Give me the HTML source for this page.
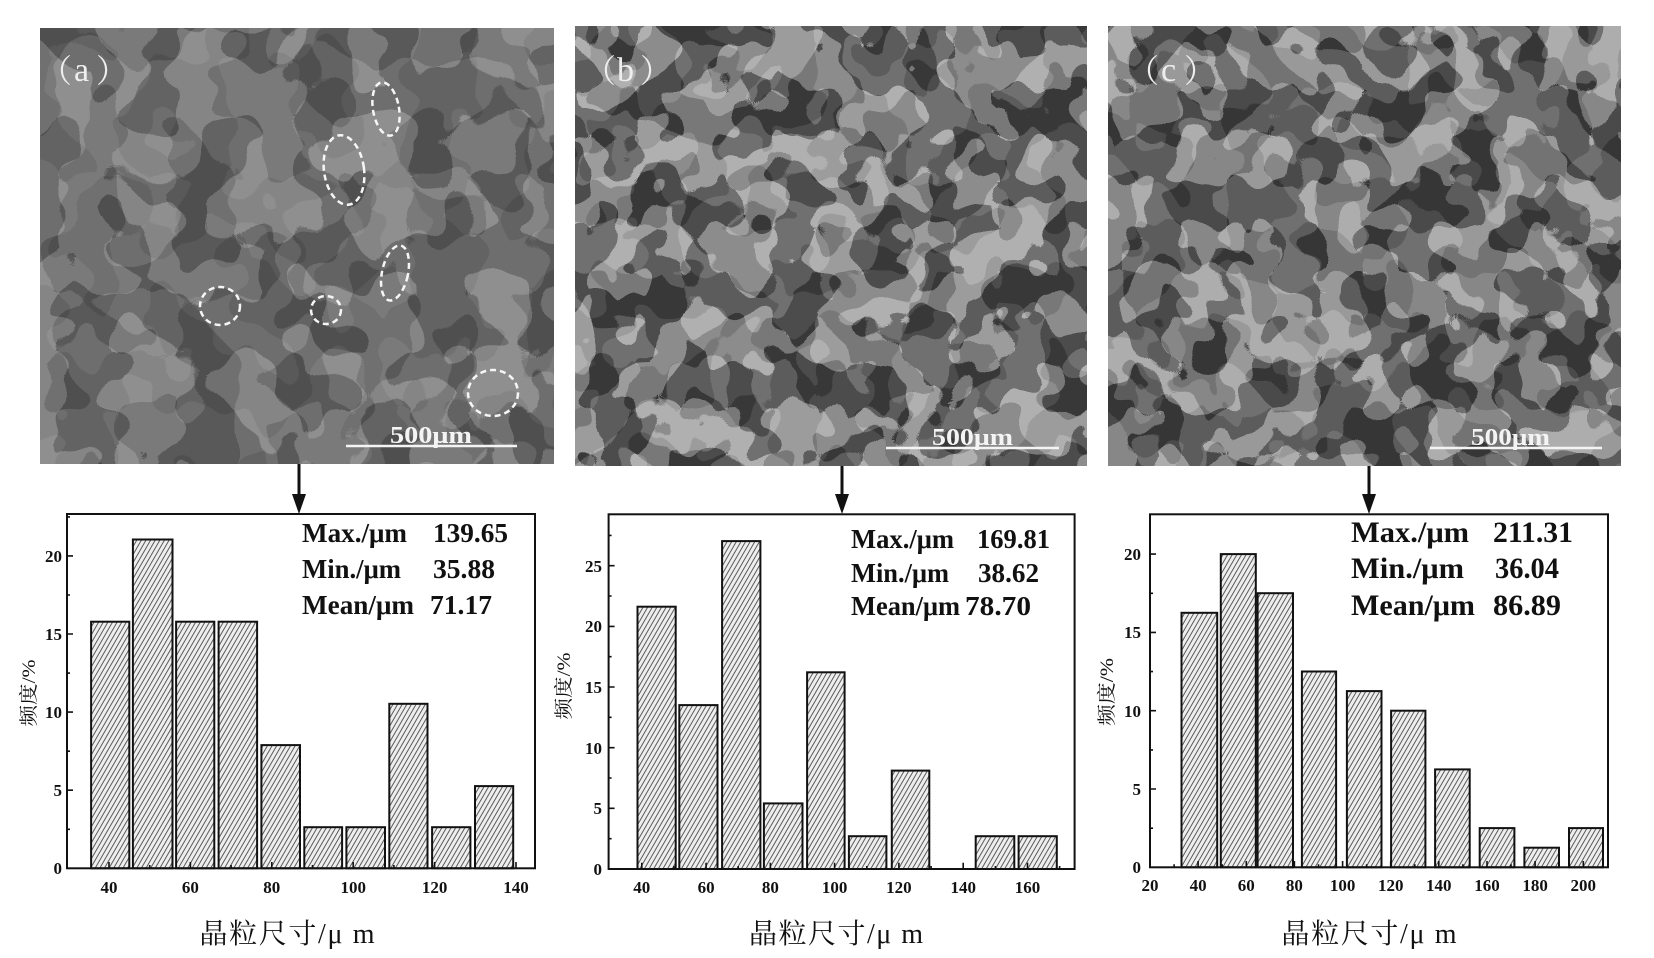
<!DOCTYPE html>
<html>
<head>
<meta charset="utf-8">
<style>
  html,body{margin:0;padding:0;background:#fff;}
  svg{display:block;}
  .tk{font-family:"Liberation Serif","Noto Serif CJK SC",serif;font-weight:bold;font-size:17px;fill:#111;}
  .st{font-family:"Liberation Serif","Noto Serif CJK SC",serif;font-weight:bold;fill:#111;}
  .yl{font-family:"Liberation Serif","Noto Serif CJK SC",serif;font-size:19px;fill:#111;}
  .xl{font-family:"Liberation Serif","Noto Serif CJK SC",serif;font-size:28px;fill:#111;}
  .sb{font-family:"Liberation Serif",serif;font-weight:bold;font-size:24px;fill:#f4f4f4;}
  .lb{font-family:"Liberation Serif","Noto Serif CJK SC",serif;fill:#eeeeee;}
</style>
</head>
<body>
<svg width="1654" height="958" viewBox="0 0 1654 958" xmlns="http://www.w3.org/2000/svg">
<defs>
  <pattern id="hat" width="4" height="8" patternUnits="userSpaceOnUse" patternTransform="rotate(30)">
    <rect width="4" height="8" fill="#eeeeee"/>
    <rect x="0" y="0" width="1" height="8" fill="#5a5a5a"/>
  </pattern>
  <filter id="fa" filterUnits="userSpaceOnUse" x="40" y="28" width="514" height="436" color-interpolation-filters="sRGB">
    <feTurbulence type="fractalNoise" baseFrequency="0.017" numOctaves="2" seed="3"/>
    <feComponentTransfer>
      <feFuncR type="discrete" tableValues="0 1"/>
      <feFuncG type="discrete" tableValues="0 1"/>
      <feFuncB type="discrete" tableValues="0 1"/>
      <feFuncA type="discrete" tableValues="1 1"/>
    </feComponentTransfer>
    <feColorMatrix type="matrix" values="0.13 0.08 0.04 0 0.31  0.13 0.08 0.04 0 0.31  0.13 0.08 0.04 0 0.31  0 0 0 0 1"/>
  </filter>
  <filter id="fb" filterUnits="userSpaceOnUse" x="575" y="26" width="512" height="440" color-interpolation-filters="sRGB">
    <feTurbulence type="fractalNoise" baseFrequency="0.022" numOctaves="2" seed="11"/>
    <feComponentTransfer>
      <feFuncR type="discrete" tableValues="0 1"/>
      <feFuncG type="discrete" tableValues="0 1"/>
      <feFuncB type="discrete" tableValues="0 1"/>
      <feFuncA type="discrete" tableValues="1 1"/>
    </feComponentTransfer>
    <feColorMatrix type="matrix" values="0.25 0.14 0.08 0 0.22  0.25 0.14 0.08 0 0.22  0.25 0.14 0.08 0 0.22  0 0 0 0 1"/>
  </filter>
  <filter id="fc" filterUnits="userSpaceOnUse" x="1108" y="26" width="513" height="440" color-interpolation-filters="sRGB">
    <feTurbulence type="fractalNoise" baseFrequency="0.022" numOctaves="2" seed="27"/>
    <feComponentTransfer>
      <feFuncR type="discrete" tableValues="0 1"/>
      <feFuncG type="discrete" tableValues="0 1"/>
      <feFuncB type="discrete" tableValues="0 1"/>
      <feFuncA type="discrete" tableValues="1 1"/>
    </feComponentTransfer>
    <feColorMatrix type="matrix" values="0.24 0.15 0.08 0 0.21  0.24 0.15 0.08 0 0.21  0.24 0.15 0.08 0 0.21  0 0 0 0 1"/>
  </filter>
</defs>

<rect width="1654" height="958" fill="#fff"/>

<!-- ================= Micrographs ================= -->
<rect x="40" y="28" width="514" height="436" fill="#707070"/>
<rect x="40" y="28" width="514" height="436" fill="#707070" filter="url(#fa)"/>
<rect x="575" y="26" width="512" height="440" fill="#767676"/>
<rect x="575" y="26" width="512" height="440" fill="#767676" filter="url(#fb)"/>
<rect x="1108" y="26" width="513" height="440" fill="#737373"/>
<rect x="1108" y="26" width="513" height="440" fill="#737373" filter="url(#fc)"/>

<!-- panel labels -->
<text class="lb" x="40" y="82" font-size="32">（</text>
<text class="lb" x="74" y="81" font-size="34">a</text>
<text class="lb" x="96" y="82" font-size="32">）</text>

<text class="lb" x="584" y="82" font-size="32">（</text>
<text class="lb" x="617" y="81" font-size="34">b</text>
<text class="lb" x="640" y="82" font-size="32">）</text>

<text class="lb" x="1127" y="82" font-size="32">（</text>
<text class="lb" x="1161" y="81" font-size="34">c</text>
<text class="lb" x="1184" y="82" font-size="32">）</text>

<!-- dashed ellipses in (a) -->
<g fill="none" stroke="#f6f6f6" stroke-width="2.5" stroke-dasharray="6 4">
  <ellipse cx="386" cy="109" rx="13" ry="27" transform="rotate(-10 386 109)"/>
  <ellipse cx="344" cy="170" rx="20" ry="35" transform="rotate(-8 344 170)"/>
  <ellipse cx="395" cy="273" rx="13" ry="28" transform="rotate(12 395 273)"/>
  <ellipse cx="220" cy="306" rx="20" ry="19"/>
  <ellipse cx="326" cy="310" rx="15" ry="14"/>
  <ellipse cx="493" cy="393" rx="25" ry="23"/>
</g>

<!-- scale bars -->
<text class="sb" x="390" y="443" textLength="82" lengthAdjust="spacingAndGlyphs">500μm</text>
<line x1="346" y1="446" x2="517" y2="446" stroke="#f4f4f4" stroke-width="2.5"/>
<text class="sb" x="932" y="445" textLength="81" lengthAdjust="spacingAndGlyphs">500μm</text>
<line x1="886" y1="448" x2="1059" y2="448" stroke="#f4f4f4" stroke-width="2.5"/>
<text class="sb" x="1471" y="445" textLength="79" lengthAdjust="spacingAndGlyphs">500μm</text>
<line x1="1430" y1="448" x2="1602" y2="448" stroke="#f4f4f4" stroke-width="2.5"/>

<!-- arrows -->
<g stroke="#111" stroke-width="3">
  <line x1="299" y1="464" x2="299" y2="500"/>
  <line x1="842" y1="466" x2="842" y2="500"/>
  <line x1="1369" y1="466" x2="1369" y2="500"/>
</g>
<g fill="#111">
  <polygon points="292,494 306,494 299,514"/>
  <polygon points="835,494 849,494 842,514"/>
  <polygon points="1362,494 1376,494 1369,514"/>
</g>

<!-- ================= Plot (a) ================= -->
<g stroke="#111" stroke-width="2" fill="url(#hat)">
  <rect x="91.1" y="621.7" width="38.2" height="246.6"/>
  <rect x="132.9" y="539.5" width="39.6" height="328.8"/>
  <rect x="176.1" y="621.7" width="38.2" height="246.6"/>
  <rect x="218.6" y="621.7" width="38.5" height="246.6"/>
  <rect x="261.4" y="745.1" width="38.6" height="123.2"/>
  <rect x="304.3" y="827.2" width="37.8" height="41.1"/>
  <rect x="346.4" y="827.2" width="38.6" height="41.1"/>
  <rect x="389.3" y="703.8" width="38.2" height="164.5"/>
  <rect x="432.1" y="827.2" width="38.3" height="41.1"/>
  <rect x="475" y="786.1" width="38.2" height="82.2"/>
</g>
<rect x="67" y="514" width="468" height="354.3" fill="none" stroke="#111" stroke-width="2"/>
<path stroke="#111" stroke-width="1.6" fill="none" d="
M109 868.3V862 M190.4 868.3V862 M271.8 868.3V862 M353.2 868.3V862 M434.6 868.3V862 M516 868.3V862
M149.7 868.3V865 M231.1 868.3V865 M312.5 868.3V865 M393.9 868.3V865 M475.3 868.3V865
M67 790.2H73 M67 712.1H73 M67 634H73 M67 555.9H73
M67 829.3H70 M67 751.2H70 M67 673.1H70 M67 595H70 M67 516.9H70"/>
<g class="tk" text-anchor="middle">
  <text x="109" y="893">40</text><text x="190.4" y="893">60</text><text x="271.8" y="893">80</text>
  <text x="353.2" y="893">100</text><text x="434.6" y="893">120</text><text x="516" y="893">140</text>
</g>
<g class="tk" text-anchor="end">
  <text x="62" y="874">0</text><text x="62" y="796">5</text><text x="62" y="718">10</text>
  <text x="62" y="640">15</text><text x="62" y="562">20</text>
</g>
<text class="yl" transform="translate(28,693) rotate(-90)" x="0" y="7" text-anchor="middle" textLength="67" lengthAdjust="spacingAndGlyphs">频度/%</text>
<text class="xl" x="287" y="943" text-anchor="middle" textLength="175" lengthAdjust="spacing">晶粒尺寸/μ m</text>
<g class="st" font-size="27">
  <text x="302" y="542" textLength="105" lengthAdjust="spacingAndGlyphs">Max./μm</text><text x="433" y="542" textLength="75" lengthAdjust="spacingAndGlyphs">139.65</text>
  <text x="302" y="578" textLength="99" lengthAdjust="spacingAndGlyphs">Min./μm</text><text x="433" y="578" textLength="62" lengthAdjust="spacingAndGlyphs">35.88</text>
  <text x="302" y="614" textLength="112" lengthAdjust="spacingAndGlyphs">Mean/μm</text><text x="430" y="614" textLength="62" lengthAdjust="spacingAndGlyphs">71.17</text>
</g>

<!-- ================= Plot (b) ================= -->
<g stroke="#111" stroke-width="2" fill="url(#hat)">
  <rect x="637.5" y="606.7" width="38.2" height="262.3"/>
  <rect x="679.3" y="705.1" width="38.2" height="163.9"/>
  <rect x="722.1" y="541.1" width="38.3" height="327.9"/>
  <rect x="763.9" y="803.4" width="38.6" height="65.6"/>
  <rect x="807.1" y="672.3" width="37.5" height="196.7"/>
  <rect x="848.9" y="836.2" width="37.5" height="32.8"/>
  <rect x="891.8" y="770.6" width="37.5" height="98.4"/>
  <rect x="975.7" y="836.2" width="38.6" height="32.8"/>
  <rect x="1018.6" y="836.2" width="38.2" height="32.8"/>
</g>
<rect x="608.6" y="514.3" width="466" height="354.7" fill="none" stroke="#111" stroke-width="2"/>
<path stroke="#111" stroke-width="1.6" fill="none" d="
M641.8 869V862.7 M706.1 869V862.7 M770.4 869V862.7 M834.6 869V862.7 M898.9 869V862.7 M963.2 869V862.7 M1027.5 869V862.7
M673.9 869V866 M738.2 869V866 M802.5 869V866 M866.8 869V866 M931.1 869V866 M995.4 869V866 M1059.6 869V866
M608.6 808.3H614.6 M608.6 747.7H614.6 M608.6 687H614.6 M608.6 626.4H614.6 M608.6 565.7H614.6
M608.6 838.7H611.6 M608.6 778H611.6 M608.6 717.3H611.6 M608.6 656.7H611.6 M608.6 596H611.6 M608.6 535.4H611.6"/>
<g class="tk" text-anchor="middle">
  <text x="641.8" y="893">40</text><text x="706.1" y="893">60</text><text x="770.4" y="893">80</text>
  <text x="834.6" y="893">100</text><text x="898.9" y="893">120</text><text x="963.2" y="893">140</text>
  <text x="1027.5" y="893">160</text>
</g>
<g class="tk" text-anchor="end">
  <text x="602" y="875">0</text><text x="602" y="814">5</text><text x="602" y="754">10</text>
  <text x="602" y="693">15</text><text x="602" y="632">20</text><text x="602" y="572">25</text>
</g>
<text class="yl" transform="translate(563,686) rotate(-90)" x="0" y="7" text-anchor="middle" textLength="67" lengthAdjust="spacingAndGlyphs">频度/%</text>
<text class="xl" x="836" y="943" text-anchor="middle" textLength="174" lengthAdjust="spacing">晶粒尺寸/μ m</text>
<g class="st" font-size="27">
  <text x="851" y="548" textLength="103" lengthAdjust="spacingAndGlyphs">Max./μm</text><text x="977" y="548" textLength="73" lengthAdjust="spacingAndGlyphs">169.81</text>
  <text x="851" y="582" textLength="98" lengthAdjust="spacingAndGlyphs">Min./μm</text><text x="978" y="582" textLength="61" lengthAdjust="spacingAndGlyphs">38.62</text>
  <text x="851" y="615" textLength="109" lengthAdjust="spacingAndGlyphs">Mean/μm</text><text x="965" y="615" textLength="66" lengthAdjust="spacingAndGlyphs">78.70</text>
</g>

<!-- ================= Plot (c) ================= -->
<g stroke="#111" stroke-width="2" fill="url(#hat)">
  <rect x="1181.5" y="612.8" width="35.7" height="254.5"/>
  <rect x="1220.8" y="554.1" width="35" height="313.2"/>
  <rect x="1257.6" y="593.2" width="35.4" height="274.1"/>
  <rect x="1301.9" y="671.5" width="34.2" height="195.8"/>
  <rect x="1346.9" y="691.1" width="34.6" height="176.2"/>
  <rect x="1391.1" y="710.7" width="34.3" height="156.6"/>
  <rect x="1435.1" y="769.4" width="34.6" height="97.9"/>
  <rect x="1479.7" y="828.1" width="34.7" height="39.2"/>
  <rect x="1524.4" y="847.7" width="34.6" height="19.6"/>
  <rect x="1569" y="828.1" width="34" height="39.2"/>
</g>
<rect x="1150" y="514.3" width="458" height="353" fill="none" stroke="#111" stroke-width="2"/>
<path stroke="#111" stroke-width="1.6" fill="none" d="
M1198.1 867.3V861 M1246.3 867.3V861 M1294.4 867.3V861 M1342.6 867.3V861 M1390.7 867.3V861 M1438.8 867.3V861 M1487 867.3V861 M1535.1 867.3V861 M1583.3 867.3V861
M1174.1 867.3V864.3 M1222.2 867.3V864.3 M1270.4 867.3V864.3 M1318.5 867.3V864.3 M1366.6 867.3V864.3 M1414.8 867.3V864.3 M1462.9 867.3V864.3 M1511 867.3V864.3 M1559.2 867.3V864.3
M1150 789H1156 M1150 710.7H1156 M1150 632.4H1156 M1150 554.1H1156
M1150 828.2H1153 M1150 749.9H1153 M1150 671.6H1153 M1150 593.3H1153"/>
<g class="tk" text-anchor="middle">
  <text x="1150" y="891">20</text><text x="1198.1" y="891">40</text><text x="1246.3" y="891">60</text>
  <text x="1294.4" y="891">80</text><text x="1342.6" y="891">100</text><text x="1390.7" y="891">120</text>
  <text x="1438.8" y="891">140</text><text x="1487" y="891">160</text><text x="1535.1" y="891">180</text>
  <text x="1583.3" y="891">200</text>
</g>
<g class="tk" text-anchor="end">
  <text x="1141" y="873">0</text><text x="1141" y="795">5</text><text x="1141" y="717">10</text>
  <text x="1141" y="638">15</text><text x="1141" y="560">20</text>
</g>
<text class="yl" transform="translate(1106,692) rotate(-90)" x="0" y="7" text-anchor="middle" textLength="68" lengthAdjust="spacingAndGlyphs">频度/%</text>
<text class="xl" x="1369" y="943" text-anchor="middle" textLength="175" lengthAdjust="spacing">晶粒尺寸/μ m</text>
<g class="st" font-size="30">
  <text x="1351" y="542" textLength="118" lengthAdjust="spacingAndGlyphs">Max./μm</text><text x="1493" y="542" textLength="80" lengthAdjust="spacingAndGlyphs">211.31</text>
  <text x="1351" y="578" textLength="113" lengthAdjust="spacingAndGlyphs">Min./μm</text><text x="1495" y="578" textLength="64" lengthAdjust="spacingAndGlyphs">36.04</text>
  <text x="1351" y="615" textLength="124" lengthAdjust="spacingAndGlyphs">Mean/μm</text><text x="1493" y="615" textLength="68" lengthAdjust="spacingAndGlyphs">86.89</text>
</g>
</svg>
</body>
</html>
